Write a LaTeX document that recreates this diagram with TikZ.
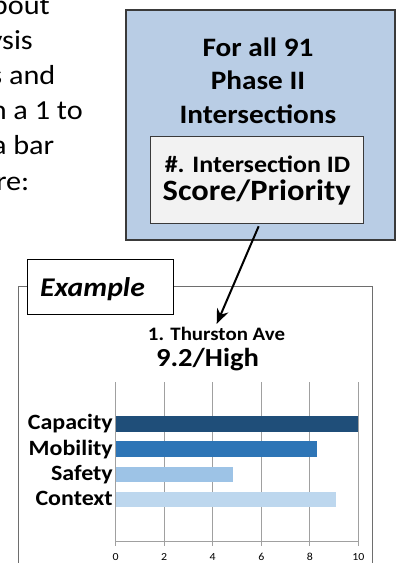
\documentclass[tikz,border=0pt]{standalone}
\usepackage{fontspec}
\setmainfont{Carlito}[FakeStretch=1.1]
\usetikzlibrary{arrows.meta,calc}
\definecolor{boxblue}{HTML}{B9CDE5}
\definecolor{boxgray}{HTML}{F2F2F2}
\definecolor{edgedark}{HTML}{3A3A3A}
\definecolor{framegray}{HTML}{6E6E6E}
\definecolor{gridgray}{HTML}{A0A0A0}
\definecolor{capcol}{HTML}{1F4E79}
\definecolor{mobcol}{HTML}{2E75B6}
\definecolor{safcol}{HTML}{9DC3E6}
\definecolor{concol}{HTML}{BDD7EE}
\newcommand{\fs}[1]{\fontsize{#1}{#1}\selectfont}
\tikzset{
  bodytext/.style={anchor=base east, inner sep=0pt, font=\fs{27.5}},
  titletext/.style={anchor=base, inner sep=0pt, font=\bfseries\fs{26.6}},
  catlabel/.style={anchor=base east, inner sep=0pt, font=\bfseries\fs{21.8}},
  ticklabel/.style={anchor=center, inner sep=0pt, font=\fs{10.8}},
  gridline/.style={draw=gridgray, line width=0.8pt},
}
\begin{document}
\begin{tikzpicture}[x=1pt,y=-1pt]
\useasboundingbox (0,0) rectangle (396,563);

% left body text (cut off at the left edge)
\node[bodytext] (l1) at (50,14) {bout};
\node[bodytext] (l2) at (33,49.2) {ysis};
\node[bodytext] (l3) at (55.5,84.4) {s and};
\node[bodytext] (l4) at (83,119.6) {n a 1 to};
\node[bodytext] (l5) at (54.5,154.8) {a bar};
\node[bodytext] (l6) at (29.5,190) {re:};

% blue box
\node[draw=edgedark, fill=boxblue, line width=1.8pt, anchor=north west, inner sep=0pt,
      minimum width=269pt, minimum height=230pt] (outer) at (125,9) {};
\node[titletext] (h1) at (258,56) {For all 91};
\node[titletext] (h2) at (258,89) {Phase II};
\node[titletext] (h3) at (258,123) {Intersections};

% inner gray box
\node[draw=edgedark, fill=boxgray, line width=1.3pt, anchor=north west, inner sep=0pt,
      minimum width=213pt, minimum height=87pt] (inner) at (150,136) {};
\node[anchor=base, inner sep=0pt, font=\bfseries\fs{23.6}] (idtxt) at (257.5,172) {\#. Intersection ID};
\node[anchor=base, inner sep=0pt, font=\bfseries\fs{29.5}] (score) at (256.7,200) {Score/Priority};

% chart frame
\draw[draw=framegray, line width=1pt] (18,566) -- (18,286) -- (372.7,286) -- (372.7,566);

% example tab
\node[draw=black, fill=white, line width=1.4pt, anchor=north west, inner sep=0pt,
      minimum width=146pt, minimum height=55pt] (extab) at (27,259) {};
\node[anchor=base, inner sep=0pt, font=\bfseries\itshape\fs{27}] (extxt) at (92.5,296.7) {Example};

% chart titles
\node[anchor=base, inner sep=0pt, font=\bfseries\fs{19}] (ctitle) at (216.5,340.7) {1. Thurston Ave};
\node[anchor=base, inner sep=0pt, font=\bfseries\fs{26}] (cscore) at (207.5,366.7) {9.2/High};

% arrow
\coordinate (tip) at (216.7,324);
\draw[line width=2pt, -{Stealth[length=15pt,width=12pt]}] ($(inner.south)+(1.5,2)$) -- (tip);

% grid and ticks
\foreach \v in {0,2,...,10} {
  \draw[gridline] ({115.7+24.26*\v},382) -- ({115.7+24.26*\v},545.5);
  \node[ticklabel] at ({115.7+24.26*\v},557) {\v};
}
\draw[gridline] (115.7,541.7) -- (358.3,541.7);

% bars
\fill[capcol] (115.7,415.7) rectangle ({115.7+24.26*10},431.7);
\fill[mobcol] (115.7,440.7) rectangle ({115.7+24.26*8.28},456.7);
\fill[safcol] (115.7,466.7) rectangle ({115.7+24.26*4.85},482.3);
\fill[concol] (115.7,491.7) rectangle ({115.7+24.26*9.08},507.3);

% category labels
\node[catlabel] (cap) at (113,429.3) {Capacity};
\node[catlabel] (mob) at (113,455) {Mobility};
\node[catlabel] (saf) at (113,480) {Safety};
\node[catlabel] (con) at (113,505) {Context};
\end{tikzpicture}
\end{document}
